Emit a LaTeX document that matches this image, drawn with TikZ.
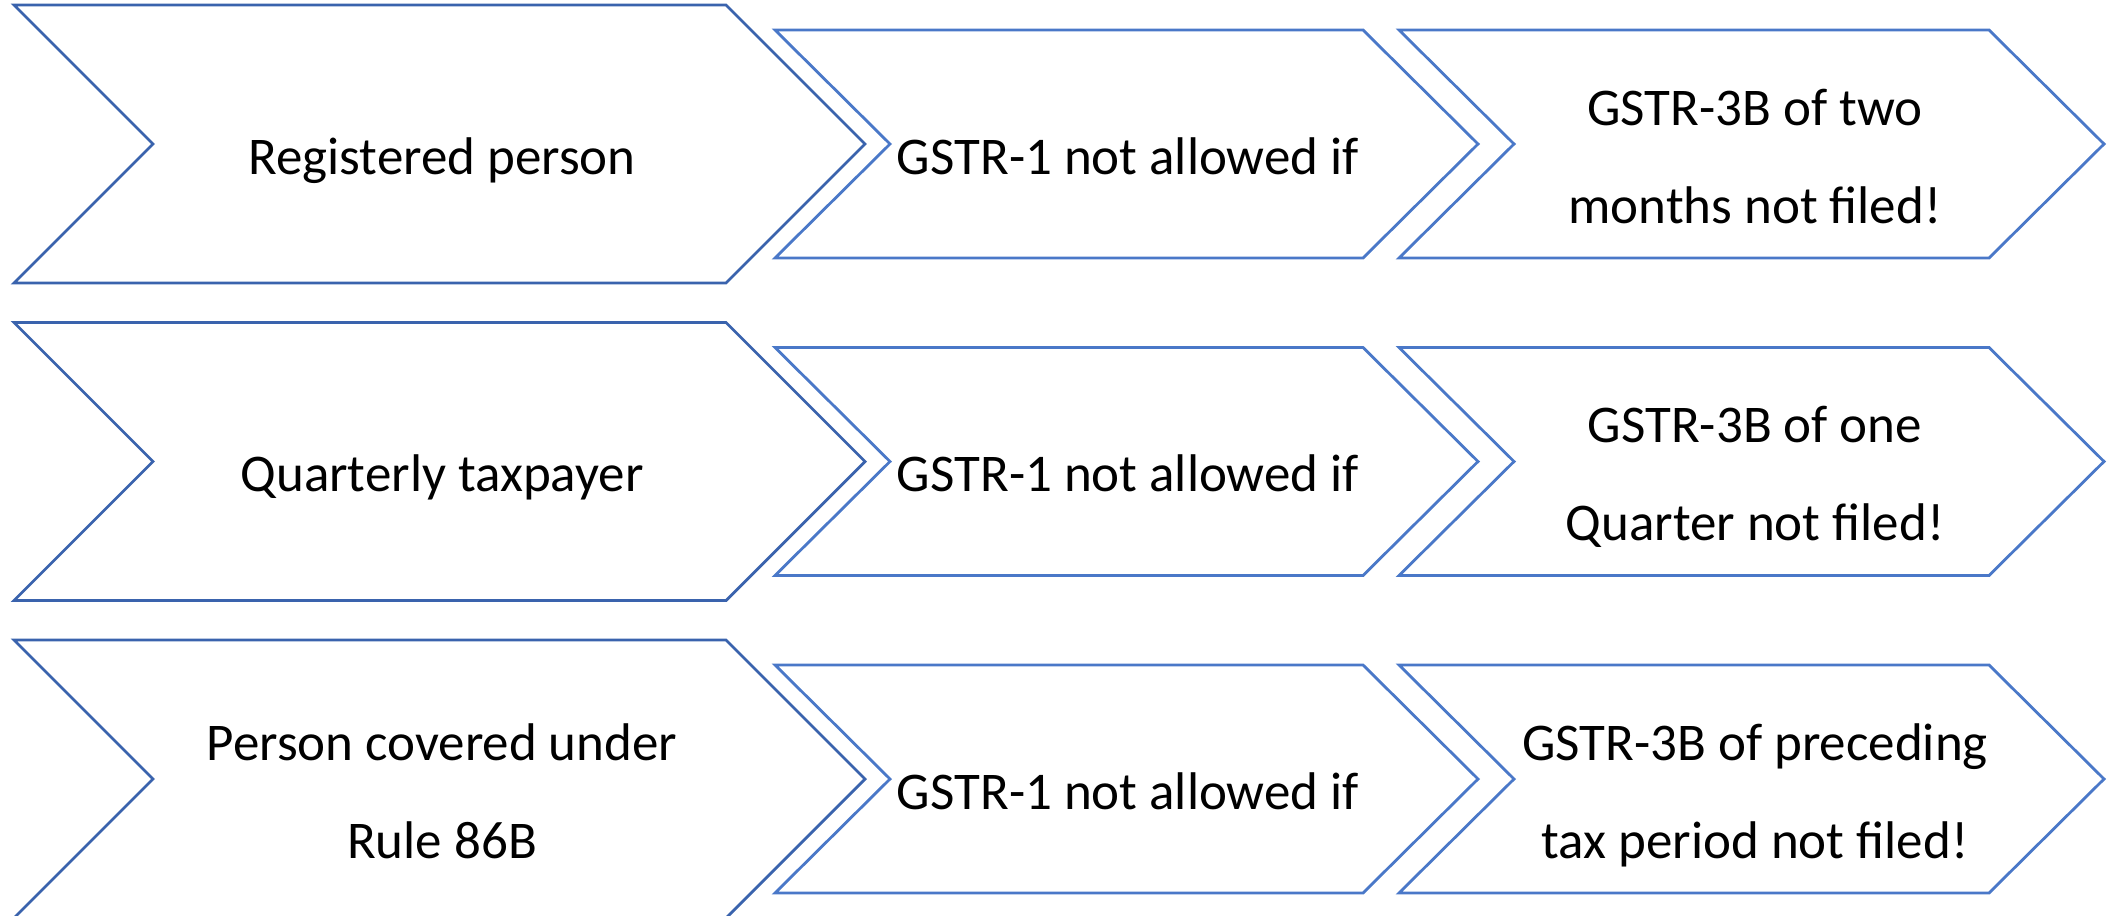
\documentclass[tikz,border=0pt]{standalone}
\usepackage{fontspec}
\setmainfont{Carlito}
\definecolor{bigblue}{HTML}{3A63AD}
\definecolor{chevblue}{HTML}{4A78C8}
\begin{document}
\begin{tikzpicture}[x=0.5pt,y=-0.5pt,
  bigchev/.style={draw=bigblue, line width=1.4pt, line join=miter},
  smallchev/.style={draw=chevblue, line width=1.4pt, line join=miter},
  lbl/.style={font=\fontsize{26.5}{49}\selectfont, align=center, inner sep=0pt, anchor=base}]
\useasboundingbox (0,0) rectangle (2107,915);
\foreach \cy in {144,461.5,779} {
  \draw[bigchev] (14,\cy-139) -- (726,\cy-139) -- (865,\cy) -- (726,\cy+139) -- (14,\cy+139) -- (153,\cy) -- cycle;
  \draw[smallchev] (775,\cy-114) -- (1363,\cy-114) -- (1478,\cy) -- (1363,\cy+114) -- (775,\cy+114) -- (890,\cy) -- cycle;
  \draw[smallchev] (1399,\cy-114) -- (1989,\cy-114) -- (2104,\cy) -- (1989,\cy+114) -- (1399,\cy+114) -- (1514,\cy) -- cycle;
}
% row 1 (base anchor of a two-line node is its last line)
\node[lbl] (a1) at (442,174) {Registered person};
\node[lbl] (b1) at (1128,174) {GSTR-1 not allowed if};
\node[lbl] (c1) at (1755,223) {GSTR-3B of two\\months not filed!};
% row 2
\node[lbl] (a2) at (442,491.5) {Quarterly taxpayer};
\node[lbl] (b2) at (1128,491.5) {GSTR-1 not allowed if};
\node[lbl] (c2) at (1755,540.5) {GSTR-3B of one\\Quarter not filed!};
% row 3
\node[lbl] (a3) at (442,858) {Person covered under\\Rule 86B};
\node[lbl] (b3) at (1128,809) {GSTR-1 not allowed if};
\node[lbl] (c3) at (1755,858) {GSTR-3B of preceding\\tax period not filed!};
\end{tikzpicture}
\end{document}
